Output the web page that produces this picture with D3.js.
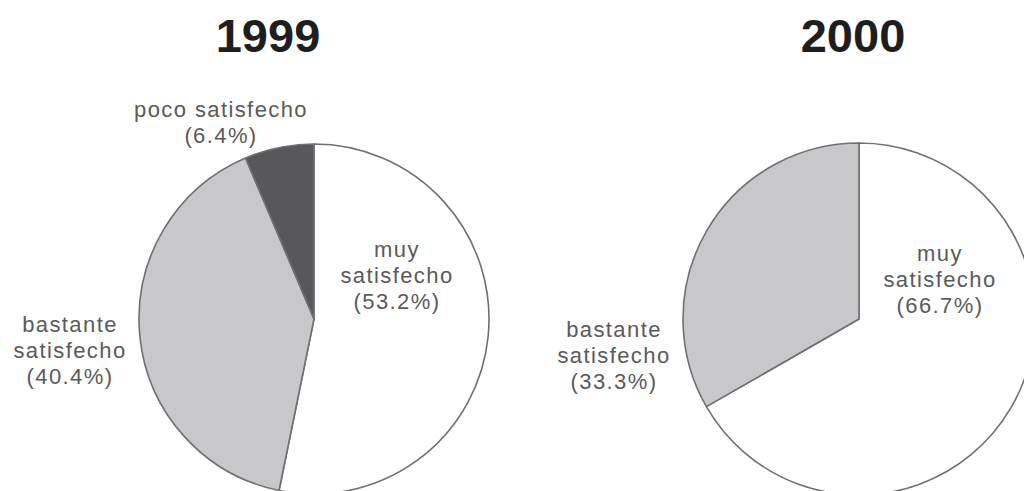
<!DOCTYPE html>
<html>
<head>
<meta charset="utf-8">
<script src="https://cdn.jsdelivr.net/npm/d3@7"></script>
<style>
  html, body { margin: 0; padding: 0; background: #fff; }
  svg { display: block; }
</style>
</head>
<body>
<svg id="chart" width="1024" height="491"></svg>
<script>
// Satisfaction survey, two years
const years = ["1999", "2000"];
const categories = ["muy satisfecho", "bastante satisfecho", "poco satisfecho"];
const values1999 = [53.2, 40.4, 6.4];
const values2000 = [66.7, 33.3, 0];
const fills = ["#ffffff", "#c8c8ca", "#58585a"];

const svg = d3.select("#chart");
const W = 1024, H = 491;

const colour = d3.scaleOrdinal().domain(categories).range(fills);

// layout of each panel
const panels = [
  { year: years[0], values: values1999, cx: 314, cy: 319, r: 175, titleX: 268,
    labels: [
      { cat: 0, x: 397, y: 257, lines: ["muy", "satisfecho"] },
      { cat: 1, x: 70,  y: 332, lines: ["bastante", "satisfecho"] },
      { cat: 2, x: 221, y: 117, lines: ["poco satisfecho"] }
    ] },
  { year: years[1], values: values2000, cx: 859, cy: 319, r: 176, titleX: 853,
    labels: [
      { cat: 0, x: 940, y: 261, lines: ["muy", "satisfecho"] },
      { cat: 1, x: 614, y: 337, lines: ["bastante", "satisfecho"] }
    ] }
];

const pie = d3.pie().sort(null).value(d => d.value);
const lineH = 26;

panels.forEach(p => {
  const data = categories.map((c, i) => ({ cat: c, value: p.values[i] }))
                         .filter(d => d.value > 0);
  const arc = d3.arc().innerRadius(0).outerRadius(p.r);

  const g = svg.append("g").attr("transform", `translate(${p.cx},${p.cy})`);
  g.selectAll("path")
    .data(pie(data))
    .join("path")
    .attr("d", arc)
    .attr("fill", d => colour(d.data.cat))
    .attr("stroke", "#707072")
    .attr("stroke-width", 1.6)
    .attr("stroke-linejoin", "round");

  // year title
  svg.append("text")
    .attr("x", p.titleX)
    .attr("y", 52)
    .attr("text-anchor", "middle")
    .attr("font-family", "Liberation Sans, Arial, sans-serif")
    .attr("font-weight", "bold")
    .attr("font-size", 47)
    .attr("fill", "#1e1e1e")
    .text(p.year);

  // slice labels with percentages
  p.labels.forEach(l => {
    const t = svg.append("text")
      .attr("text-anchor", "middle")
      .attr("font-family", "Liberation Sans, Arial, sans-serif")
      .attr("font-size", 22)
      .attr("letter-spacing", 1.4)
      .attr("fill", "#5a5a5a");
    const rows = l.lines.concat([`(${d3.format(".1f")(p.values[l.cat])}%)`]);
    rows.forEach((s, i) => {
      t.append("tspan")
        .attr("x", l.x)
        .attr("y", l.y + i * lineH)
        .text(s);
    });
  });
});
</script>
</body>
</html>
